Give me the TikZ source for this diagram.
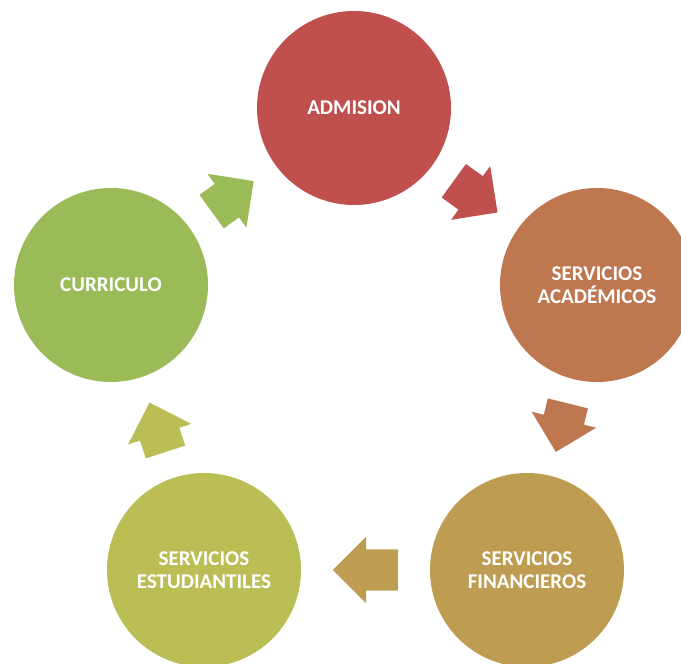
\documentclass[tikz,border=0pt]{standalone}
\usepackage{fontspec}
\setmainfont{Carlito}
\usetikzlibrary{shapes.arrows,calc}

\definecolor{rojo}{HTML}{C0504D}
\definecolor{naranja}{HTML}{BF7750}
\definecolor{ocre}{HTML}{BE9C52}
\definecolor{oliva}{HTML}{BBBD55}
\definecolor{verde}{HTML}{9BBB59}

\tikzset{
	etapa/.style={circle, minimum size=194pt, inner sep=0pt, text=white, align=center,
		font=\bfseries\fontsize{21}{23}\selectfont},
	flecha/.style={single arrow, inner sep=0pt, text height=41pt, text depth=0pt,
		single arrow head extend=12.5pt, single arrow tip angle=90, anchor=tail}
}

\begin{document}
\begin{tikzpicture}[x=1pt,y=1pt]
	\useasboundingbox (0,0) rectangle (681,664);
	\clip (0,0) rectangle (681,664);
	% etapas del ciclo
	\node[etapa, fill=rojo] (adm) at (354,556) {ADMISION};
	\node[etapa, fill=naranja] (aca) at (597,379) {SERVICIOS\\ACADÉMICOS};
	\node[etapa, fill=ocre] (fin) at (527,94) {SERVICIOS\\FINANCIEROS};
	\node[etapa, fill=oliva] (est) at (204,94) {SERVICIOS\\ESTUDIANTILES};
	\node[etapa, fill=verde] (cur) at (111,379) {CURRICULO};
	% flechas, colocadas por la cola a media distancia
	\node[flecha, fill=rojo, minimum height=54pt, rotate=-36] (f1) at ($($(adm)!0.5!(aca)$)!27pt!(adm)$) {};
	\node[flecha, fill=naranja, minimum height=50pt, rotate=-104] (f2) at ($($(aca)!0.5!(fin)$)!25pt!(aca)$) {};
	\node[flecha, fill=ocre, minimum height=65pt, rotate=180] (f3) at ($($(fin)!0.5!(est)$)!32.5pt!(fin)$) {};
	\node[flecha, fill=oliva, minimum height=52pt, rotate=108] (f4) at ($($(est)!0.5!(cur)$)!26pt!(est)$) {};
	\node[flecha, fill=verde, minimum height=52pt, rotate=36] (f5) at ($($(cur)!0.5!(adm)$)!26pt!(cur)$) {};
\end{tikzpicture}
\end{document}
